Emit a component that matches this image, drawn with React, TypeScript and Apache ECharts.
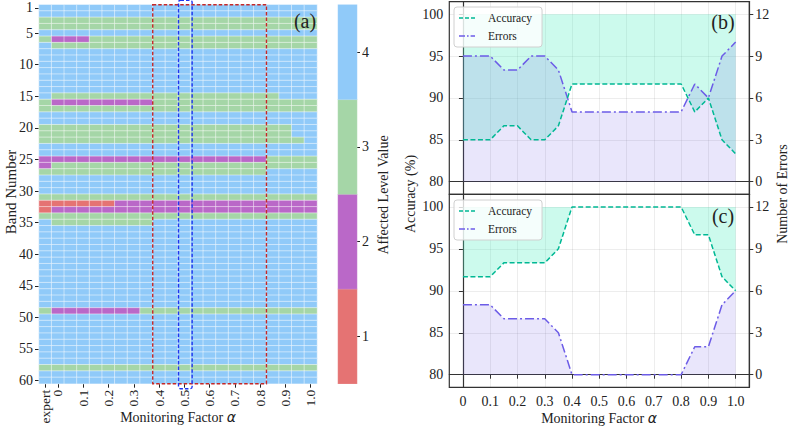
import React, { useEffect, useRef } from 'react';
import * as echarts from 'echarts';

const SERIF = '"Liberation Serif", "Times New Roman", serif';

// ---------- (a) heatmap data ----------
const heatColumns = ['expert', '0', '0.05', '0.1', '0.15', '0.2', '0.25', '0.3', '0.35', '0.4', '0.45', '0.5', '0.55', '0.6', '0.65', '0.7', '0.75', '0.8', '0.85', '0.9', '0.95', '1.0'];
const bandNumbers = ['1','2','3','4','5','6','7','8','9','10','11','12','13','14','15','16','17','18','19','20','21','22','23','24','25','26','27','28','29','30','31','32','33','34','35','36','37','38','39','40','41','42','43','44','45','46','47','48','49','50','51','52','53','54','55','56','57','58','59','60'];
// one string per band (row), one digit per column: affected level value 1..4
const bandLevels = [
  '4444444444444444444444', // 1
  '4444444444444444444444', // 2
  '3333333333333333333333', // 3
  '3333333333333333333333', // 4
  '4444444444444444444444', // 5
  '3222333333333333333333', // 6
  '4333333333333333333333', // 7
  '4444444444444444444444', // 8
  '4444444444444444444444', // 9
  '4444444444444444444444', // 10
  '4444444444444444444444', // 11
  '4444444444444444444444', // 12
  '4444444444444444444444', // 13
  '4444444444444444444444', // 14
  '4333333333333333333444', // 15
  '3222222223333333333333', // 16
  '3333333333333333333333', // 17
  '4444444444444444444444', // 18
  '4444444444444444444444', // 19
  '3333333333333333333344', // 20
  '3333333333333333333344', // 21
  '3333333333333333333334', // 22
  '4444444444444444444444', // 23
  '4444444444444444444444', // 24
  '2222222222222222223333', // 25
  '2333333333333333333333', // 26
  '3333333333333333334444', // 27
  '4444444444444444444444', // 28
  '4444444444444444444444', // 29
  '4444444444444444444444', // 30
  '3333333333333333333333', // 31
  '1111112222222222222222', // 32
  '1222222222222222222222', // 33
  '3333333333333333333333', // 34
  '4333333334444444444444', // 35
  '4444444444444444444444', // 36
  '4444444444444444444444', // 37
  '4444444444444444444444', // 38
  '4444444444444444444444', // 39
  '4444444444444444444444', // 40
  '4444444444444444444444', // 41
  '4444444444444444444444', // 42
  '4444444444444444444444', // 43
  '4444444444444444444444', // 44
  '4444444444444444444444', // 45
  '4444444444444444444444', // 46
  '4444444444444444444444', // 47
  '4444444444444444444444', // 48
  '3222222233333333333333', // 49
  '4444444444444444444444', // 50
  '4444444444444444444444', // 51
  '4444444444444444444444', // 52
  '4444444444444444444444', // 53
  '4444444444444444444444', // 54
  '4444444444444444444444', // 55
  '4444444444444444444444', // 56
  '4444444444444444444444', // 57
  '3333333333333333333333', // 58
  '4444444444444444444444', // 59
  '4444444444444444444444', // 60
];
const levelCategories = ['1', '2', '3', '4'];
const levelColors = ['#E57373', '#BA68C8', '#A5D6A7', '#90CAF9'];
const redBoxColumns = ['0.4', '0.8'];
const blueBoxColumn = '0.5';

// ---------- (b) / (c) line data ----------
const alphaValues = [0, 0.05, 0.1, 0.15, 0.2, 0.25, 0.3, 0.35, 0.4, 0.45, 0.5, 0.55, 0.6, 0.65, 0.7, 0.75, 0.8, 0.85, 0.9, 0.95, 1.0];
const alphaTicks = [0, 0.1, 0.2, 0.3, 0.4, 0.5, 0.6, 0.7, 0.8, 0.9, 1.0];
const accuracyB = [85, 85, 85, 86.67, 86.67, 85, 85, 86.67, 91.67, 91.67, 91.67, 91.67, 91.67, 91.67, 91.67, 91.67, 91.67, 88.33, 90, 85, 83.33];
const errorsB = [9, 9, 9, 8, 8, 9, 9, 8, 5, 5, 5, 5, 5, 5, 5, 5, 5, 7, 6, 9, 10];
const accuracyC = [91.67, 91.67, 91.67, 93.33, 93.33, 93.33, 93.33, 95, 100, 100, 100, 100, 100, 100, 100, 100, 100, 96.67, 96.67, 91.67, 90];
const errorsC = [5, 5, 5, 4, 4, 4, 4, 3, 0, 0, 0, 0, 0, 0, 0, 0, 0, 2, 2, 5, 6];
const accuracyTicks = [80, 85, 90, 95, 100];
const errorTicks = [0, 3, 6, 9, 12];
const accuracyCeiling = 100;

const ACC_COLOR = '#00b894';
const ACC_FILL = 'rgba(85,239,196,0.3)';
const ERR_COLOR = '#6c5ce7';
const ERR_FILL = 'rgba(108,92,231,0.22)';

const ICON_DASH = 'path://M0,0h5v2h-5z M7.5,0h5v2h-5z M15,0h5v2h-5z';
const ICON_DASHDOT = 'path://M0,0h7.5v2h-7.5z M10,0h2v2h-2z M14.5,0h5.5v2h-5.5z';

export default function App() {
  const ref = useRef<HTMLDivElement>(null);

  useEffect(() => {
    if (!ref.current) return;
    const chart = echarts.init(ref.current, null, { renderer: 'svg' });

    const heatData: number[][] = [];
    bandLevels.forEach((row, r) => {
      for (let c = 0; c < heatColumns.length; c++) heatData.push([c, r, Number(row[c])]);
    });
    const barData = levelCategories.map((l, i) => [0, i, Number(l)]);

    const tickFont = { fontFamily: SERIF, fontSize: 14, color: '#222' };

    const panelX = (gridIndex: number, showLabels: boolean) => ({
      type: 'value', gridIndex, min: -0.05, max: 1.05,
      axisLine: { show: true, lineStyle: { color: '#333', width: 1.2 } },
      axisTick: { show: showLabels, customValues: alphaTicks, length: 4, lineStyle: { color: '#333' } },
      axisLabel: { show: showLabels, customValues: alphaTicks, ...tickFont, margin: 7,
        formatter: (v: number) => (v === 0 ? '0' : v.toFixed(1)) },
      splitLine: { show: true, lineStyle: { color: 'rgba(0,0,0,0.07)', width: 1 } },
    });
    const panelYLeft = (gridIndex: number) => ({
      type: 'value', gridIndex, position: 'left', min: 78.5, max: 101.5,
      axisLine: { show: true, lineStyle: { color: '#333', width: 1.2 } },
      axisTick: { show: true, customValues: accuracyTicks, length: 4, lineStyle: { color: '#333' } },
      axisLabel: { customValues: accuracyTicks, ...tickFont, margin: 6 },
      splitLine: { show: true, lineStyle: { color: 'rgba(0,0,0,0.07)', width: 1 } },
    });
    const panelYRight = (gridIndex: number) => ({
      type: 'value', gridIndex, position: 'right', min: -0.9, max: 12.9,
      axisLine: { show: true, lineStyle: { color: '#333', width: 1.2 } },
      axisTick: { show: true, customValues: errorTicks, length: 4, lineStyle: { color: '#333' } },
      axisLabel: { customValues: errorTicks, ...tickFont, margin: 6 },
      splitLine: { show: false },
    });

    const panelSeries = (xi: number, yl: number, yr: number, acc: number[], err: number[], tag: string) => [
      {
        // fill between the accuracy curve and 100 %
        type: 'custom', name: 'accFill' + tag, xAxisIndex: xi, yAxisIndex: yl, z: 2, silent: true,
        data: alphaValues.map((a, i) => [a, acc[i]]),
        renderItem: (params: any, api: any) => {
          if (params.dataIndex !== 0) return null;
          const lower = alphaValues.map((a, i) => api.coord([a, acc[i]]));
          const upper = alphaValues.map((a) => api.coord([a, accuracyCeiling])).reverse();
          return { type: 'polygon', shape: { points: lower.concat(upper) }, style: { fill: ACC_FILL, stroke: 'none' } };
        },
      },
      {
        type: 'line', name: 'Errors', xAxisIndex: xi, yAxisIndex: yr,
        data: alphaValues.map((a, i) => [a, err[i]]),
        symbol: 'none', showSymbol: false, z: 3,
        lineStyle: { color: ERR_COLOR, width: 1.5, type: [9, 3, 2, 3] },
        itemStyle: { color: ERR_COLOR },
        areaStyle: { color: ERR_FILL, origin: 'auto' },
      },
      {
        type: 'line', name: 'Accuracy', xAxisIndex: xi, yAxisIndex: yl,
        data: alphaValues.map((a, i) => [a, acc[i]]),
        symbol: 'none', showSymbol: false, z: 4,
        lineStyle: { color: ACC_COLOR, width: 1.5, type: [5, 2.5] },
        itemStyle: { color: ACC_COLOR },
      },
    ];

    const legendCommon = {
      data: [{ name: 'Accuracy', icon: ICON_DASH }, { name: 'Errors', icon: ICON_DASHDOT }],
      orient: 'vertical', left: 454, itemWidth: 20, itemHeight: 1.6, itemGap: 6,
      selectedMode: false,
      textStyle: { fontFamily: SERIF, fontSize: 11.5, color: '#222', padding: [0, 0, 0, 6] },
      backgroundColor: 'rgba(255,255,255,0.8)', borderColor: '#d0d0d0', borderWidth: 1, borderRadius: 3,
      padding: [5, 10, 5, 5],
    };

    const heatLabel = { rotate: 90, fontFamily: SERIF, fontSize: 13.5, color: '#222', margin: 6 };
    const heatTick = { show: true, alignWithLabel: true, length: 4, lineStyle: { color: '#222' } };

    const option: any = {
      animation: false,
      grid: [
        { left: 39, top: 4.7, width: 278, height: 379 },
        { left: 338, top: 4.7, width: 19, height: 379 },
        { left: 449.3, top: 1.6, width: 300, height: 192.7, show: true, borderColor: '#333', borderWidth: 1.2, backgroundColor: 'transparent' },
        { left: 449.3, top: 194.3, width: 300, height: 193, show: true, borderColor: '#333', borderWidth: 1.2, backgroundColor: 'transparent' },
      ],
      visualMap: {
        type: 'piecewise', show: false, seriesIndex: [0, 1], dimension: 2,
        pieces: levelCategories.map((l, i) => ({ value: Number(l), color: levelColors[i] })),
      },
      legend: [
        { ...legendCommon, top: 7 },
        { ...legendCommon, top: 200 },
      ],
      xAxis: [
        {
          // alpha columns (labels every 0.1)
          type: 'category', gridIndex: 0, data: heatColumns, position: 'bottom', offset: 0,
          axisLine: { show: false },
          axisTick: { ...heatTick, interval: (i: number) => i % 2 === 1 },
          axisLabel: { ...heatLabel, interval: (i: number) => i % 2 === 1 },
          splitLine: { show: false },
        },
        {
          // the "expert" column label
          type: 'category', gridIndex: 0, data: heatColumns, position: 'bottom', offset: 0,
          axisLine: { show: false },
          axisTick: { ...heatTick, interval: (i: number) => i === 0 },
          axisLabel: { ...heatLabel, showMinLabel: true, interval: (i: number) => i === 0 },
          splitLine: { show: false },
        },
        { type: 'category', gridIndex: 1, data: [''], show: false },
        panelX(2, false),
        panelX(3, true),
      ],
      yAxis: [
        {
          type: 'category', gridIndex: 0, data: bandNumbers, inverse: true,
          axisLine: { show: false },
          axisTick: { show: true, alignWithLabel: true, length: 4, lineStyle: { color: '#222' },
            interval: (i: number) => i === 0 || (i + 1) % 5 === 0 },
          axisLabel: { fontFamily: SERIF, fontSize: 14, color: '#222', margin: 6,
            interval: (i: number) => i === 0 || (i + 1) % 5 === 0 },
          splitLine: { show: false },
        },
        {
          type: 'category', gridIndex: 1, data: levelCategories, position: 'right',
          axisLine: { show: false },
          axisTick: { show: true, alignWithLabel: true, length: 3, lineStyle: { color: '#222' } },
          axisLabel: { fontFamily: SERIF, fontSize: 14, color: '#222', margin: 5 },
        },
        panelYLeft(2),
        panelYRight(2),
        panelYLeft(3),
        panelYRight(3),
      ],
      series: [
        {
          type: 'heatmap', xAxisIndex: 0, yAxisIndex: 0, data: heatData, silent: true,
          itemStyle: { borderColor: 'rgba(255,255,255,0.6)', borderWidth: 0.8 },
          emphasis: { disabled: true },
        },
        {
          type: 'heatmap', xAxisIndex: 2, yAxisIndex: 1, data: barData, silent: true,
          itemStyle: { borderColor: 'rgba(255,255,255,0.3)', borderWidth: 0.5 },
          emphasis: { disabled: true },
        },
        ...panelSeries(3, 2, 3, accuracyB, errorsB, 'B'),
        ...panelSeries(4, 4, 5, accuracyC, errorsC, 'C'),
      ],
    };

    chart.setOption(option);

    // overlay boxes positioned with the heatmap's own scales
    const finder = { xAxisIndex: 0, yAxisIndex: 0 } as any;
    const p0 = chart.convertToPixel(finder, [0, 0]) as number[];
    const p1 = chart.convertToPixel(finder, [1, 1]) as number[];
    const colW = p1[0] - p0[0];
    const rowH = p1[1] - p0[1];
    const cIdx = (name: string) => heatColumns.indexOf(name);
    const rl = chart.convertToPixel(finder, [cIdx(redBoxColumns[0]), 0]) as number[];
    const rr = chart.convertToPixel(finder, [cIdx(redBoxColumns[1]), bandNumbers.length - 1]) as number[];
    const bl = chart.convertToPixel(finder, [cIdx(blueBoxColumn), 0]) as number[];
    const bb = chart.convertToPixel(finder, [cIdx(blueBoxColumn), bandNumbers.length - 1]) as number[];

    const redLeft = rl[0] - colW / 2;
    const redTop = rl[1] - rowH / 2;
    const redRight = rr[0] + colW / 2;
    const redBottom = rr[1] + rowH / 2;
    const blueLeft = bl[0] - colW / 2 + 0.5;
    const blueRight = bl[0] + colW / 2 + 1.5;
    const blueTop = bl[1] - rowH / 2 - 4.5;
    const blueBottom = bb[1] + rowH / 2 + 5;

    const txt = (text: string, x: number, y: number, size: number, rot = 0) => ({
      type: 'text', x, y, rotation: rot, z: 120, silent: true,
      style: { text, fontFamily: SERIF, fontSize: size, fill: '#222', align: 'center', verticalAlign: 'middle' },
    });
    const axisTitle = (x: number, y: number) => ({
      type: 'text', x, y, z: 120, silent: true,
      style: {
        text: '{t|Monitoring Factor }{a|α}', align: 'center', verticalAlign: 'middle',
        rich: {
          t: { fontFamily: SERIF, fontSize: 14, fill: '#222' },
          a: { fontFamily: '"DejaVu Sans", sans-serif', fontStyle: 'italic', fontSize: 14, fill: '#222' },
        },
      },
    });

    chart.setOption({
      graphic: [
        {
          type: 'rect', z: 110, silent: true,
          shape: { x: redLeft, y: redTop, width: redRight - redLeft, height: redBottom - redTop },
          style: { fill: 'none', stroke: '#c62828', lineWidth: 1.4, lineDash: [3.5, 2] },
        },
        {
          type: 'rect', z: 111, silent: true,
          shape: { x: blueLeft, y: blueTop, width: blueRight - blueLeft, height: blueBottom - blueTop, r: 2 },
          style: { fill: 'none', stroke: '#1f35f0', lineWidth: 1.4, lineDash: [3.5, 2] },
        },
        txt('(a)', 305, 21, 20),
        txt('(b)', 723, 22, 20),
        txt('(c)', 723, 216, 20),
        txt('Band Number', 11, 192, 15, Math.PI / 2),
        txt('Affected Level Value', 383, 195, 14, Math.PI / 2),
        txt('Accuracy (%)', 410, 194, 14, Math.PI / 2),
        txt('Number of Errors', 782, 194, 14, Math.PI / 2),
        axisTitle(178, 417),
        axisTitle(599, 418),
      ],
    });

    return () => chart.dispose();
  }, []);

  return <div ref={ref} style={{ width: 790, height: 427, position: 'absolute', left: 0, top: 0 }} />;
}
